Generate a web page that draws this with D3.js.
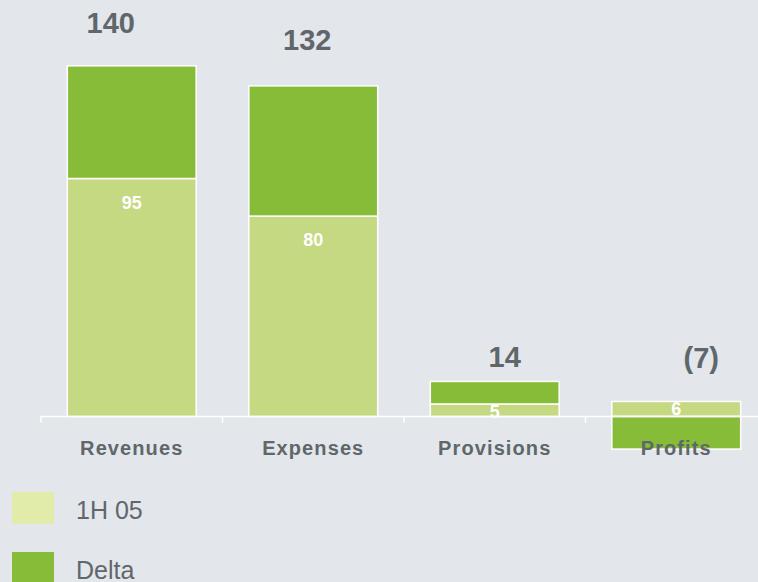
<!DOCTYPE html>
<html>
<head>
<title>1H 05 vs Delta</title>
<script src="https://cdn.jsdelivr.net/npm/d3@7"></script>
<style>
body { margin: 0; background: #e3e6eb; }
svg { display: block; font-family: "Liberation Sans", Arial, sans-serif; }
</style>
</head>
<body>
<div id="chart"></div>
<script>

var categories = ["Revenues", "Expenses", "Provisions", "Profits"];
var base = [95, 80, 5, 6];
var delta = [45, 52, 9, -13];
var totals = [140, 132, 14, -7];
var seriesNames = ["1H 05", "Delta"];

// hand placed offsets for the total labels (dx, dy from top of bar)
var totalShift = [[-21, -33], [-6, -36], [10, -14], [25, -33]];

var width = 758;
var height = 582;
var textColor = "#5f676b";
var barColor = {"1H 05": "#c5d982", "Delta": "#86bc37"};
var legendColor = {"1H 05": "#e1ebaa", "Delta": "#86bc37"};

var svg = d3.select("#chart")
	.append("svg")
		.attr("width", width)
		.attr("height", height);

svg.append("rect")
	.attr("width", width)
	.attr("height", height)
	.attr("fill", "#e3e6eb");

var x = d3.scaleBand()
	.domain(categories)
	.range([41, 767])
	.padding(0);

var y = d3.scaleLinear()
	.domain([0, 140])
	.range([416.5, 65.8]);

var rows = categories.map(function(c, i) {
	return {cat: c, "1H 05": base[i], "Delta": delta[i]};
});

var stack = d3.stack()
	.keys(seriesNames)
	.offset(d3.stackOffsetDiverging);

var series = stack(rows);

var barW = x.bandwidth() * 0.71;

svg.append("g")
	.selectAll("g")
	.data(series)
	.enter()
	.append("g")
		.attr("fill", function(d) { return barColor[d.key]; })
	.selectAll("rect")
	.data(function(d) { return d; })
	.enter()
	.append("rect")
		.attr("x", function(d) { return x(d.data.cat) + (x.bandwidth() - barW) / 2; })
		.attr("y", function(d) { return y(d[1]); })
		.attr("width", barW)
		.attr("height", function(d) { return y(d[0]) - y(d[1]); })
		.attr("stroke", "white")
		.style("stroke-width", "1.5px");

// axis line and ticks at the band edges
var axis = svg.append("g");

axis.append("line")
	.attr("x1", x.range()[0])
	.attr("x2", x.range()[1])
	.attr("y1", y(0))
	.attr("y2", y(0))
	.attr("stroke", "white")
	.style("stroke-width", "1.5px");

axis.selectAll("line.tick")
	.data(categories)
	.enter()
	.append("line")
		.attr("class", "tick")
		.attr("x1", function(d) { return x(d); })
		.attr("x2", function(d) { return x(d); })
		.attr("y1", y(0))
		.attr("y2", y(0) + 6)
		.attr("stroke", "white")
		.style("stroke-width", "1.5px");

// value of first series, inside the bar
svg.selectAll("text.inner")
	.data(categories)
	.enter()
	.append("text")
		.attr("class", "inner")
		.text(function(d, i) { return base[i]; })
		.attr("x", function(d) { return x(d) + x.bandwidth() / 2; })
		.attr("y", function(d, i) { return y(base[i]) + (base[i] > 20 ? 30 : 14); })
		.style("text-anchor", "middle")
		.style("font-size", "18px")
		.style("font-weight", "bold")
		.attr("fill", "white");

// totals above bars
svg.selectAll("text.total")
	.data(categories)
	.enter()
	.append("text")
		.attr("class", "total")
		.text(function(d, i) { return totals[i] < 0 ? "(" + Math.abs(totals[i]) + ")" : totals[i]; })
		.attr("x", function(d, i) { return x(d) + x.bandwidth() / 2 + totalShift[i][0]; })
		.attr("y", function(d, i) { return y(Math.max(base[i] + Math.max(delta[i], 0), base[i])) + totalShift[i][1]; })
		.style("text-anchor", "middle")
		.style("font-size", "29px")
		.style("font-weight", "bold")
		.attr("fill", textColor);

// category labels
svg.selectAll("text.cat")
	.data(categories)
	.enter()
	.append("text")
		.attr("class", "cat")
		.text(function(d) { return d; })
		.attr("x", function(d) { return x(d) + x.bandwidth() / 2; })
		.attr("y", 455)
		.style("text-anchor", "middle")
		.style("font-size", "20px")
		.style("font-weight", "bold")
		.style("letter-spacing", "1.1px")
		.attr("fill", textColor);

// legend
var legend = svg.append("g")
	.selectAll("g")
	.data(seriesNames)
	.enter()
	.append("g")
		.attr("transform", function(d, i) { return "translate(12," + (492 + i * 60) + ")"; });

legend.append("rect")
	.attr("width", 42)
	.attr("height", 32)
	.attr("fill", function(d) { return legendColor[d]; });

legend.append("text")
	.text(function(d) { return d; })
	.attr("x", 64)
	.attr("y", 27)
	.style("font-size", "25px")
	.attr("fill", textColor);

</script>
</body>
</html>
